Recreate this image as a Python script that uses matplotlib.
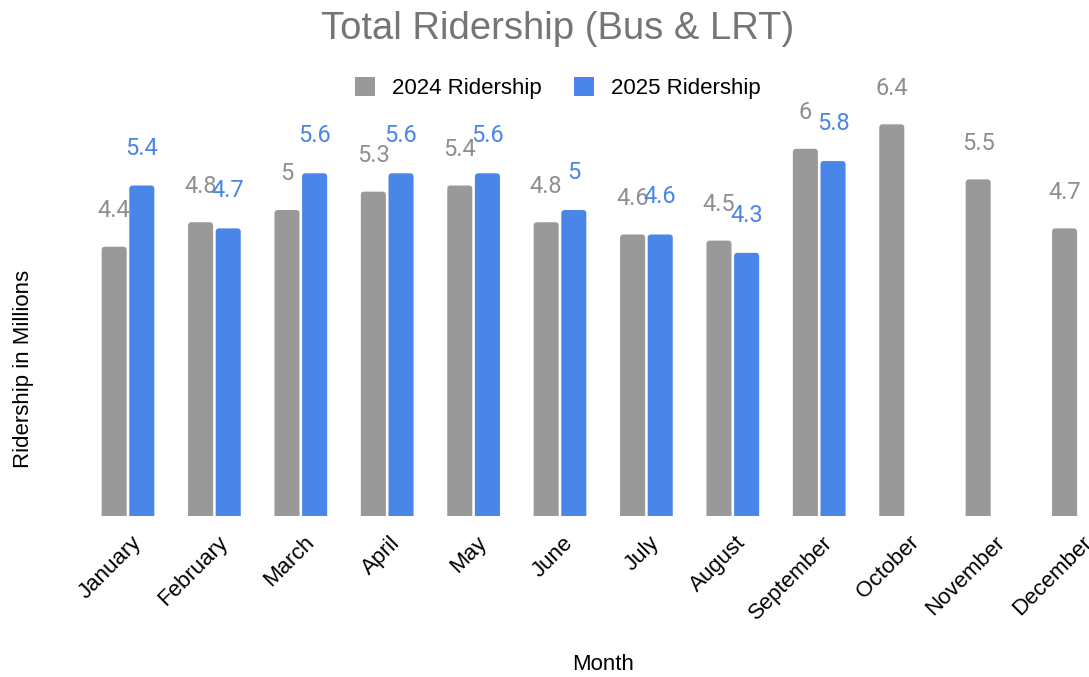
import numpy as np
import matplotlib
matplotlib.use("Agg")
import matplotlib.pyplot as plt
import matplotlib.transforms as mtransforms
from matplotlib.patches import FancyBboxPatch, Patch

plt.rcParams['font.family'] = ['Liberation Sans', 'DejaVu Sans']

# data (millions of riders)
months = ['January', 'February', 'March', 'April', 'May', 'June', 'July',
          'August', 'September', 'October', 'November', 'December']
rides_2024 = [4.4, 4.8, 5.0, 5.3, 5.4, 4.8, 4.6, 4.5, 6.0, 6.4, 5.5, 4.7]
rides_2025 = [5.4, 4.7, 5.6, 5.6, 5.6, 5.0, 4.6, 4.3, 5.8]
labels_2024 = ['4.4', '4.8', '5', '5.3', '5.4', '4.8', '4.6', '4.5', '6', '6.4', '5.5', '4.7']
labels_2025 = ['5.4', '4.7', '5.6', '5.6', '5.6', '5', '4.6', '4.3', '5.8']

grey = '#999999'
blue = '#4a86e8'

W, H = 1089, 677
fig = plt.figure(figsize=(W / 100, H / 100), dpi=100)
# axes runs past the right edge, like the original (December is cut off)
ax = fig.add_axes([84.8 / W, (H - 516) / H, 1036.8 / W, 7 * 61.2 / H])
ax.set_xlim(-0.5, 11.5)
ax.set_ylim(0, 7)

x = np.arange(len(months))
bw = 0.29
off = 0.16
b1 = ax.bar(x[:len(rides_2024)] - off, rides_2024, bw, color=grey)
b2 = ax.bar(x[:len(rides_2025)] + off, rides_2025, bw, color=blue)

# swap the plain bars for ones with rounded tops
aspect = 86.4 / 61.2
for bars, col in ((b1, grey), (b2, blue)):
    for r in bars:
        bx, w, h = r.get_x(), r.get_width(), r.get_height()
        p = FancyBboxPatch((bx, -0.2), w, h + 0.2,
                           boxstyle='round,pad=0,rounding_size=0.04',
                           mutation_aspect=aspect, fc=col, ec='none')
        ax.add_patch(p)
        r.set_visible(False)

for i, (v, t) in enumerate(zip(rides_2024, labels_2024)):
    ax.annotate(t, (i - off, v), xytext=(0, 26), textcoords='offset points',
                ha='center', va='center', color='#8f8f8f', fontsize=17,
                family=['Roboto', 'DejaVu Sans'])
for i, (v, t) in enumerate(zip(rides_2025, labels_2025)):
    ax.annotate(t, (i + off, v), xytext=(0, 27), textcoords='offset points',
                ha='center', va='center', color=blue, fontsize=17,
                family=['Roboto', 'DejaVu Sans'])

for s in ax.spines.values():
    s.set_visible(False)
ax.set_yticks([])
ax.set_xticks(x)
ax.set_xticklabels(months, rotation=45, ha='right', va='center',
                   rotation_mode='anchor', fontsize=16)
ax.tick_params(axis='x', length=0, pad=17)
shift = mtransforms.ScaledTranslation(10 / 100, 0, fig.dpi_scale_trans)
for lab in ax.get_xticklabels():
    lab.set_transform(lab.get_transform() + shift)

fig.text(558 / W, 1 - 29 / H, 'Total Ridership (Bus & LRT)', ha='center', va='center',
         fontsize=27.5, color='#757575')
fig.text(603 / W, 1 - 664 / H, 'Month', ha='center', va='center', fontsize=16)
fig.text(24 / W, 1 - 369 / H, 'Ridership in Millions', ha='center', va='center',
         rotation=90, fontsize=16)

handles = [Patch(fc=grey, ec='none'), Patch(fc=blue, ec='none')]
fig.legend(handles, ['2024 Ridership', '2025 Ridership'], loc='center',
           bbox_to_anchor=(558 / W, 1 - 88 / H), ncol=2, frameon=False,
           fontsize=16, handlelength=0.9, handleheight=0.9, handletextpad=0.75,
           columnspacing=1.45, borderpad=0)

fig.savefig('out.png', dpi=100)
